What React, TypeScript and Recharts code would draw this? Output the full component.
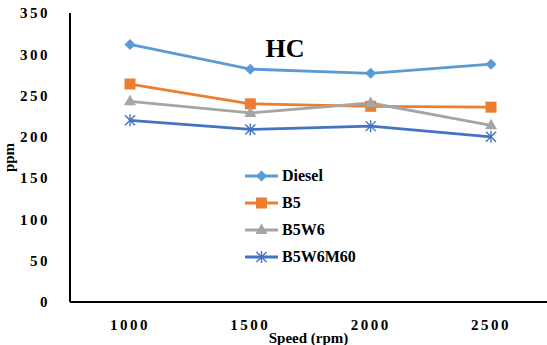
import { LineChart, Line, XAxis, YAxis } from 'recharts';

const speeds = ['1000', '1500', '2000', '2500'];
const diesel = [312, 282, 277, 288];
const b5 = [264, 240, 237, 236];
const b5w6 = [243, 229, 241, 214];
const b5w6m60 = [220, 209, 213, 200];
const yTicks = [0, 50, 100, 150, 200, 250, 300, 350];

const data = speeds.map((s, i) => ({
  speed: s,
  Diesel: diesel[i],
  B5: b5[i],
  B5W6: b5w6[i],
  B5W6M60: b5w6m60[i],
}));

const FONT = '"Liberation Serif", "Times New Roman", serif';

const series = [
  { key: 'Diesel', color: '#5B9BD5', shape: 'diamond' },
  { key: 'B5', color: '#ED7D31', shape: 'square' },
  { key: 'B5W6', color: '#A5A5A5', shape: 'triangle' },
  { key: 'B5W6M60', color: '#4472C4', shape: 'star' },
];

const Marker = ({ cx, cy, shape, color }: any) => {
  if (cx == null || cy == null) return null;
  if (shape === 'diamond')
    return <polygon points={`${cx},${cy - 5.5} ${cx + 5.5},${cy} ${cx},${cy + 5.5} ${cx - 5.5},${cy}`} fill={color} />;
  if (shape === 'square')
    return <rect x={cx - 5.5} y={cy - 5.5} width={11} height={11} fill={color} />;
  if (shape === 'triangle')
    return <polygon points={`${cx},${cy - 6.5} ${cx + 6},${cy + 4} ${cx - 6},${cy + 4}`} fill={color} />;
  return (
    <g stroke={color} strokeWidth={1.4}>
      <line x1={cx - 5} y1={cy - 5} x2={cx + 5} y2={cy + 5} />
      <line x1={cx - 5} y1={cy + 5} x2={cx + 5} y2={cy - 5} />
      <line x1={cx} y1={cy - 6} x2={cx} y2={cy + 6} />
    </g>
  );
};

const LegendBox = () => (
  <div style={{ position: 'absolute', left: 245, top: 162, fontFamily: FONT, fontWeight: 'bold', fontSize: 16 }}>
    {series.map((s) => (
      <div key={s.key} style={{ display: 'flex', alignItems: 'center', height: 27 }}>
        <svg width={33} height={14} style={{ marginRight: 4 }}>
          <line x1={0} y1={7} x2={33} y2={7} stroke={s.color} strokeWidth={2.8} />
          <Marker cx={16.5} cy={7} shape={s.shape} color={s.color} />
        </svg>
        <span>{s.key}</span>
      </div>
    ))}
  </div>
);

const tickStyle = { fontFamily: FONT, fontWeight: 'bold', fontSize: 15, fill: '#000', letterSpacing: 2.5 };

export default function App() {
  return (
    <div style={{ position: 'absolute', left: 0, top: 0, width: 547, height: 345, background: '#fff' }}>
      <LineChart width={547} height={345} data={data} margin={{ top: 13, right: 0, bottom: 0, left: 0 }}>
        <XAxis
          dataKey="speed"
          height={43}
          padding={{ left: 60, right: 56 }}
          tickLine={false}
          tickMargin={11}
          axisLine={{ stroke: '#000', strokeWidth: 2 }}
          tick={tickStyle}
          label={{ value: 'Speed (rpm)', position: 'insideBottom', offset: 2, style: { fontFamily: FONT, fontWeight: 'bold', fontSize: 15, fill: '#000' } }}
        />
        <XAxis xAxisId="top" dataKey="speed" orientation="top" height={0} tick={false} tickLine={false} axisLine={{ stroke: '#000', strokeWidth: 2 }} />
        <YAxis
          width={70}
          domain={[0, 350]}
          ticks={yTicks}
          tickLine={false}
          tickMargin={14}
          axisLine={{ stroke: '#000', strokeWidth: 2 }}
          tick={tickStyle}
          label={{ value: 'ppm', angle: -90, position: 'insideLeft', offset: 9, style: { fontFamily: FONT, fontWeight: 'bold', fontSize: 15, fill: '#000', textAnchor: 'middle' } }}
        />
        <text x={285} y={57} textAnchor="middle" style={{ fontFamily: FONT, fontWeight: 'bold', fontSize: 26, fill: '#000' }}>HC</text>
        {series.map((s) => (
          <Line
            key={s.key}
            dataKey={s.key}
            stroke={s.color}
            strokeWidth={2.8}
            isAnimationActive={false}
            dot={(p: any) => <Marker key={`${s.key}-${p.index}`} cx={p.cx} cy={p.cy} shape={s.shape} color={s.color} />}
            activeDot={false}
          />
        ))}
      </LineChart>
      <LegendBox />
    </div>
  );
}
